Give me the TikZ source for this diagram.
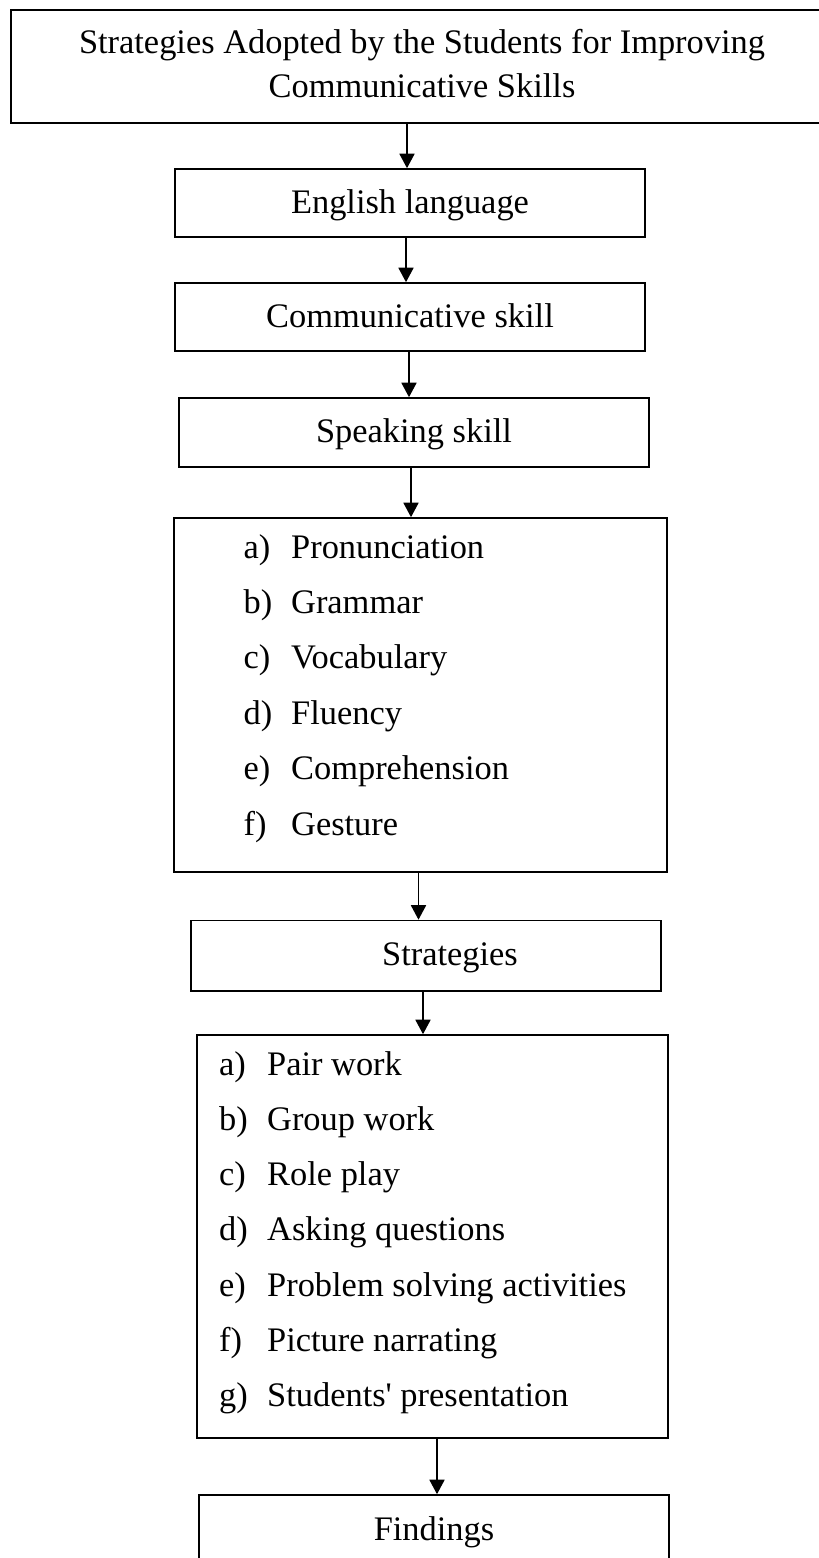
\documentclass[tikz,border=0pt]{standalone}
\usepackage{fontspec}
\setmainfont{Liberation Serif}
\usetikzlibrary{arrows.meta}
\begin{document}
\begin{tikzpicture}[x=1pt,y=-1pt,
  box/.style={draw=black, line width=1.6pt, rectangle, inner sep=0pt},
  txt/.style={font=\fontsize{34.4pt}{44pt}\selectfont},
  onebox/.style={box, txt, text height=24pt, text depth=4pt, minimum width=470pt},
  item/.style={txt, anchor=base west, inner sep=0pt},
  arr/.style={line width=1.8pt, -{Triangle[length=14.5pt,width=15pt]}}
]
\useasboundingbox (0,0) rectangle (819,1558);

% boxes
\node[box, txt, align=center, minimum width=839pt, minimum height=113pt] (title) at (430.5,66.5)
  {Strategies Adopted by the Students for Improving\hspace*{17pt}\\Communicative Skills\hspace*{17pt}\rule[-6.5pt]{0pt}{0pt}};
\node[onebox, minimum height=68pt] (eng) at (410,203) {English language};
\node[onebox, minimum height=68pt] (comm) at (410,317) {Communicative skill};
\node[onebox, minimum height=69pt] (speak) at (414,432.5) {Speaking skill};
\node[box, minimum width=493pt, minimum height=354pt] (splist) at (420.5,695) {};
\node[onebox, minimum height=70.5pt] (strat) at (426,955.75) {\hspace*{48pt}Strategies};
\node[box, minimum width=471pt, minimum height=403pt] (stlist) at (432.5,1236.5) {};
\node[onebox, minimum height=70pt] (find) at (434,1530) {Findings};

% speaking skill items
\node[item] (s1) at (243.5,558.0) {\makebox[47.5pt][l]{a)}Pronunciation};
\node[item] (s2) at (243.5,613.4) {\makebox[47.5pt][l]{b)}Grammar};
\node[item] (s3) at (243.5,668.8) {\makebox[47.5pt][l]{c)}Vocabulary};
\node[item] (s4) at (243.5,724.2) {\makebox[47.5pt][l]{d)}Fluency};
\node[item] (s5) at (243.5,779.6) {\makebox[47.5pt][l]{e)}Comprehension};
\node[item] (s6) at (243.5,835.0) {\makebox[47.5pt][l]{f)}Gesture};

% strategies items
\node[item] (t1) at (219,1075.0) {\makebox[48pt][l]{a)}Pair work};
\node[item] (t2) at (219,1130.3) {\makebox[48pt][l]{b)}Group work};
\node[item] (t3) at (219,1185.6) {\makebox[48pt][l]{c)}Role play};
\node[item] (t4) at (219,1240.9) {\makebox[48pt][l]{d)}Asking questions};
\node[item] (t5) at (219,1296.2) {\makebox[48pt][l]{e)}Problem solving activities};
\node[item] (t6) at (219,1351.5) {\makebox[48pt][l]{f)}Picture narrating};
\node[item] (t7) at (219,1406.8) {\makebox[48pt][l]{g)}Students\textquotesingle{} presentation};

% arrow columns
\coordinate (c1) at (407,0);
\coordinate (c2) at (406,0);
\coordinate (c3) at (409,0);
\coordinate (c4) at (411,0);
\coordinate (c5) at (418.5,0);
\coordinate (c6) at (423,0);
\coordinate (c7) at (437,0);

\draw[arr] (title.south -| c1) -- (eng.north -| c1);
\draw[arr] (eng.south -| c2) -- (comm.north -| c2);
\draw[arr] (comm.south -| c3) -- (speak.north -| c3);
\draw[arr] (speak.south -| c4) -- (splist.north -| c4);
\draw[arr] (splist.south -| c5) -- (strat.north -| c5);
\draw[arr] (strat.south -| c6) -- (stlist.north -| c6);
\draw[arr] (stlist.south -| c7) -- (find.north -| c7);
\end{tikzpicture}
\end{document}
